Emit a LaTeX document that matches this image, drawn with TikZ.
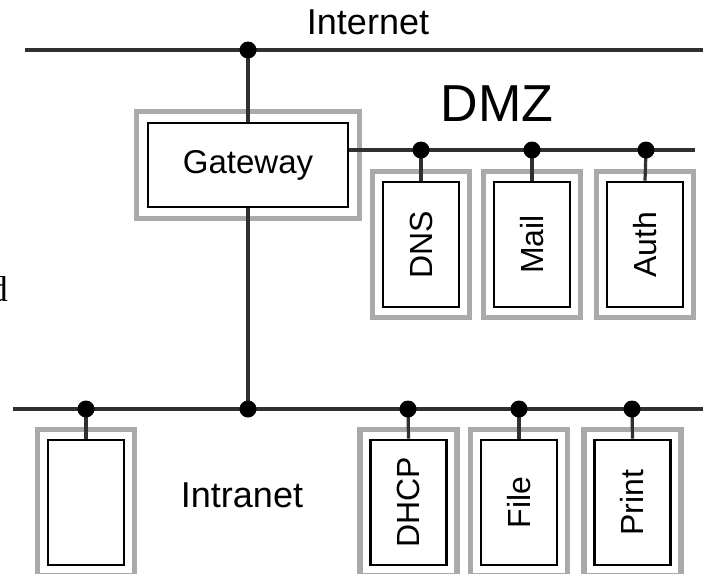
\documentclass[tikz,border=0pt]{standalone}
\usepackage{fontspec}
\setmainfont{Liberation Sans}
\newfontfamily\stdserif{Liberation Serif}
\usetikzlibrary{calc}
\definecolor{framegray}{HTML}{AAAAAA}
\definecolor{wirecol}{HTML}{303030}
\newcommand\hostframe[2]{\draw[frame] ($(#1.north west)+(-#2,-#2)$) rectangle ($(#1.south east)+(#2,#2)$);}
\newcommand\vlabel[1]{\rotatebox{90}{#1}}
\begin{document}
\begin{tikzpicture}[x=1pt,y=-1pt,
  wire/.style={draw=wirecol, line width=3.2pt},
  tap/.style={circle, fill=black, inner sep=0pt, minimum size=16pt},
  hostbox/.style={draw=black, line width=2.6pt, fill=white, inner sep=0pt,
    minimum width=76pt, minimum height=125pt, font=\fontsize{32}{38}\selectfont},
  frame/.style={draw=framegray, line width=5.5pt},
  netlabel/.style={inner sep=0pt, font=\fontsize{36}{42}\selectfont}]
\useasboundingbox (0,0) rectangle (703,573);

% ---- boxes
\node[hostbox, minimum width=200pt, minimum height=84pt, font=\fontsize{33}{40}\selectfont] (gw) at (248,165) {Gateway};
\node[hostbox] (dns)  at (421,244.5) {\vlabel{DNS}};
\node[hostbox] (mail) at (532,244.5) {\vlabel{Mail}};
\node[hostbox] (auth) at (645,244.5) {\vlabel{Auth}};
\node[hostbox] (ws)   at (86,502.5)  {};
\node[hostbox] (dhcp) at (408.5,502.5) {\vlabel{DHCP}};
\node[hostbox] (file) at (519,502.5) {\vlabel{File}};
\node[hostbox] (print) at (632.5,502.5) {\vlabel{Print}};

% ---- gray frames
\hostframe{gw}{10}
\hostframe{dns}{9}
\hostframe{mail}{9}
\hostframe{auth}{9}
\hostframe{ws}{9}
\hostframe{dhcp}{9}
\hostframe{file}{9}
\hostframe{print}{9}

% ---- bus end points
\coordinate (inetL) at (25,50);
\coordinate (inetR) at (703,50);
\coordinate (dmzR) at (695,150);
\coordinate (lanL) at (13,409);
\coordinate (lanR) at (703,409);

% ---- taps
\node[tap] (tinet) at (248,50) {};
\node[tap] (tdns)  at (421,150) {};
\node[tap] (tmail) at (532,150) {};
\node[tap] (tauth) at (646,150) {};
\node[tap] (tws)   at (86,409) {};
\node[tap] (tgw)   at (248,409) {};
\node[tap] (tdhcp) at (408,409) {};
\node[tap] (tfile) at (519,409) {};
\node[tap] (tprint) at (632,409) {};

% ---- wires
\draw[wire] (inetL) -- (inetR);
\draw[wire] (gw.east |- dmzR) -- (dmzR);
\draw[wire] (lanL) -- (lanR);
\draw[wire] (tinet.center) -- (gw.north);
\draw[wire] (gw.south) -- (tgw.center);
\draw[wire] (tdns.center) -- (dns.north);
\draw[wire] (tmail.center) -- (mail.north);
\draw[wire] (tauth.center) -- (auth.north);
\draw[wire] (tws.center) -- (ws.north);
\draw[wire] (tdhcp.center) -- (dhcp.north);
\draw[wire] (tfile.center) -- (file.north);
\draw[wire] (tprint.center) -- (print.north);

% redraw taps on top
\foreach \t in {tinet,tdns,tmail,tauth,tws,tgw,tdhcp,tfile,tprint}
  \fill[black] (\t.center) circle (8.5pt);

% ---- labels
\node[netlabel] (linet) at (368,22) {Internet};
\node[inner sep=0pt, font=\fontsize{52}{60}\selectfont] (ldmz) at (497,104) {DMZ};
\node[netlabel] (llan) at (242,495) {Intranet};
\node[inner sep=0pt, anchor=base east, font=\stdserif\fontsize{36}{42}\selectfont] (lcut) at (8,301) {d};
\end{tikzpicture}
\end{document}
